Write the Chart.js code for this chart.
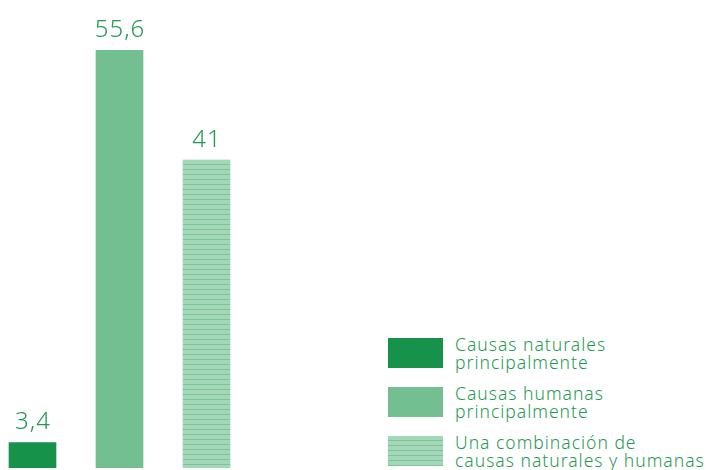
<!DOCTYPE html>
<html>
<head>
<meta charset="utf-8">
<script src="https://cdn.jsdelivr.net/npm/chart.js@4"></script>
<style>
  html, body { margin: 0; padding: 0; background: #fff; }
  body { width: 715px; height: 470px; position: relative; overflow: hidden; font-family: "Noto Sans", sans-serif; }
  #chartBox { position: absolute; left: -11px; top: 0; width: 261px; height: 470px; }
  #legend { position: absolute; left: 388px; top: 338px; }
  .item { display: flex; align-items: flex-start; height: 49px; }
  .swatch { width: 55px; height: 30px; flex: none; }
  .text { margin-left: 12px; margin-top: -3px; color: #1f9a52; font-size: 17.5px; line-height: 18px; letter-spacing: 1px; white-space: nowrap; font-weight: 300; }
</style>
</head>
<body>
<div id="chartBox"><canvas id="chart"></canvas></div>
<div id="legend"></div>
<script>
// Chart data
const categories = ['Causas naturales principalmente', 'Causas humanas principalmente', 'Una combinación de causas naturales y humanas'];
const legendLines = [
  ['Causas naturales', 'principalmente'],
  ['Causas humanas', 'principalmente'],
  ['Una combinación de', 'causas naturales y humanas']
];
const values = [3.4, 55.6, 41];
const valueLabels = ['3,4', '55,6', '41'];

const darkGreen = '#17924a';
const midGreen = '#74bf91';
const lightGreen = '#a4d6b8';
const stripeGreen = '#7dc49b';
const textGreen = '#1f9a52';

// Striped pattern for the third bar
function makeStripes() {
  const c = document.createElement('canvas');
  c.width = 4;
  c.height = 5;
  const g = c.getContext('2d');
  g.fillStyle = lightGreen;
  g.fillRect(0, 0, 4, 5);
  g.fillStyle = stripeGreen;
  g.fillRect(0, 4, 4, 1);
  return c;
}

const ctx = document.getElementById('chart');
const stripes = ctx.getContext('2d').createPattern(makeStripes(), 'repeat');

// Build the HTML legend
const legend = document.getElementById('legend');
const swatchStyles = [
  darkGreen,
  midGreen,
  'repeating-linear-gradient(to bottom, ' + lightGreen + ' 0px, ' + lightGreen + ' 4px, ' + stripeGreen + ' 4px, ' + stripeGreen + ' 5px)'
];
legendLines.forEach((lines, i) => {
  const item = document.createElement('div');
  item.className = 'item';
  item.innerHTML = `
    <div class="swatch" style="background: ${swatchStyles[i]}"></div>
    <div class="text">${lines.join('<br>')}</div>
  `;
  legend.appendChild(item);
});

// Value labels above bars
const valueLabelPlugin = {
  id: 'valueLabels',
  afterDatasetsDraw(chart) {
    const g = chart.ctx;
    const meta = chart.getDatasetMeta(0);
    g.save();
    g.fillStyle = textGreen;
    g.font = '300 24px "Noto Sans", sans-serif';
    g.letterSpacing = '1px';
    g.textAlign = 'center';
    g.textBaseline = 'alphabetic';
    meta.data.forEach((bar, i) => {
      g.fillText(valueLabels[i], bar.x + 0.5, bar.y - 13);
    });
    g.restore();
  }
};

new Chart(ctx, {
  type: 'bar',
  data: {
    labels: categories,
    datasets: [{
      data: values,
      backgroundColor: [darkGreen, midGreen, stripes],
      borderWidth: 0,
      barThickness: 47
    }]
  },
  options: {
    responsive: true,
    maintainAspectRatio: false,
    animation: false,
    layout: { padding: { top: 0, bottom: 2, left: 0, right: 0 } },
    plugins: {
      legend: { display: false },
      tooltip: { enabled: false }
    },
    scales: {
      x: { display: false },
      y: { display: false, min: 0, max: 62.3 }
    }
  },
  plugins: [valueLabelPlugin]
});
</script>
</body>
</html>
